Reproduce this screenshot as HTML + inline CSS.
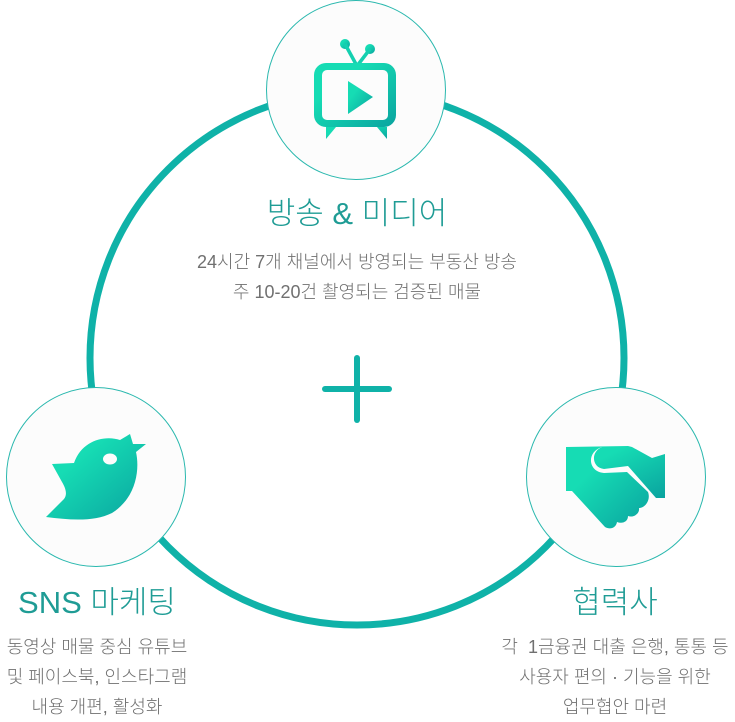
<!DOCTYPE html>
<html><head><meta charset="utf-8"><style>
body{margin:0;width:735px;height:720px;background:#fff;overflow:hidden;position:relative;font-family:"Liberation Sans","Noto Sans CJK KR",sans-serif}
.t{position:absolute;text-align:center;color:#1f9c95;font-size:31px;line-height:36px;white-space:nowrap;font-weight:300}
.d{position:absolute;text-align:center;color:#707070;font-size:18px;line-height:30px;white-space:nowrap;font-weight:300}
</style></head><body>
<svg width="735" height="720" style="position:absolute;left:0;top:0">
<defs><linearGradient id="g" x1="0" y1="0" x2="1" y2="1"><stop offset="0.3" stop-color="#16dcb4"/><stop offset="1" stop-color="#0aa39f"/></linearGradient></defs>
<circle cx="357" cy="358" r="267" fill="none" stroke="#0fb2a8" stroke-width="7"/>
<line x1="357" y1="358" x2="357" y2="420" stroke="#0fb2a8" stroke-width="6" stroke-linecap="round"/>
<line x1="325" y1="389" x2="389" y2="389" stroke="#0fb2a8" stroke-width="6" stroke-linecap="round"/>
<circle cx="356" cy="90" r="89.5" fill="#fcfcfc" stroke="#2ab8ae" stroke-width="1"/>
<circle cx="96" cy="477" r="89.5" fill="#fcfcfc" stroke="#2ab8ae" stroke-width="1"/>
<circle cx="616" cy="477" r="89.5" fill="#fcfcfc" stroke="#2ab8ae" stroke-width="1"/>
<g fill="url(#g)">
<circle cx="345" cy="44" r="5"/><circle cx="370" cy="49" r="5"/>
<path d="M345 44 L357 66 L370 49" fill="none" stroke="#14d0b0" stroke-width="3.5"/>
<path d="M326 63 h58 a12 12 0 0 1 12 12 v40 a12 12 0 0 1 -12 12 h-58 a12 12 0 0 1 -12 -12 v-40 a12 12 0 0 1 12 -12 z M327 70 a5 5 0 0 0 -5 5 v40 a5 5 0 0 0 5 5 h56 a5 5 0 0 0 5 -5 v-40 a5 5 0 0 0 -5 -5 z" fill-rule="evenodd"/>
<path d="M348 81 L373 97 L348 114 z"/>
<path d="M326 127 h10 l-10 12 z M377 127 h10 v12 z"/>
</g>
<path fill="url(#g)" d="M52 464 L74 463 C82 440 105 435 120 440 L130 434 L133 444 L146 444 L136 452 C140 470 136 498 112 513 C94 522 70 520 46 517 L64 499 C68 494 65 487 62 482 Z"/>
<ellipse cx="110" cy="459" rx="7" ry="5.5" fill="#fcfcfc"/>
<g fill="url(#g)">
<path d="M566 447 L602 447 C590 452 592 468 604 469 L628 466 L656 498 L656 498 L665 498 L665 454 L652 458 L632 447 L628 446 Z"/>
<path d="M566 447 L566 491 L572 491 L605 527 C610 530 616 528 617 522 C622 524 628 522 628 516 C633 518 640 514 639 508 C645 508 651 500 648 492 L627 472 L604 473 C588 472 586 452 602 447 Z"/>
</g>
</svg>
<div class="t" style="left:157px;width:400px;top:196px">방송 &amp; 미디어</div>
<div class="d" style="left:137px;width:440px;top:247px">24시간 7개 채널에서 방영되는 부동산 방송<br>주 10-20건 촬영되는 검증된 매물</div>
<div class="t" style="left:-10px;width:214px;top:585px">SNS 마케팅</div>
<div class="d" style="left:-10px;width:214px;top:632px">동영상 매물 중심 유튜브<br>및 페이스북, 인스타그램<br>내용 개편, 활성화</div>
<div class="t" style="left:515px;width:200px;top:585px">협력사</div>
<div class="d" style="left:480px;width:270px;top:632px">각 &nbsp;1금융권 대출 은행, 통통 등<br>사용자 편의 · 기능을 위한<br>업무협안 마련</div>
</body></html>
